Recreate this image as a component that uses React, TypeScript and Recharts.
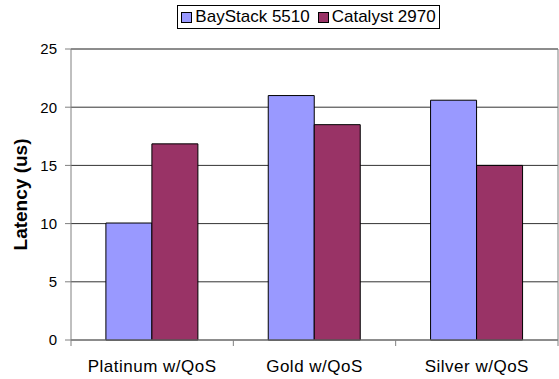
import { BarChart, Bar, XAxis, YAxis, CartesianGrid, ReferenceLine, Label } from "recharts";

const categories = ["Platinum w/QoS", "Gold w/QoS", "Silver w/QoS"];
const baystack = [10.05, 21.0, 20.6];
const catalyst = [16.85, 18.5, 15.0];
const yTicks = [0, 5, 10, 15, 20, 25];

const SERIES = [
  { key: "BayStack 5510", color: "#9999FF" },
  { key: "Catalyst 2970", color: "#993366" },
];

const data = categories.map((name, i) => ({
  name,
  "BayStack 5510": baystack[i],
  "Catalyst 2970": catalyst[i],
}));

const WIDTH = 559;
const HEIGHT = 379;
const MARGIN = { top: 49, right: 1, bottom: 0, left: 0 };
const Y_AXIS_W = 71;
const X_AXIS_H = 39;
// width of one category band, used to put the x ticks on the band edges
const CAT_W = (WIDTH - MARGIN.left - MARGIN.right - Y_AXIS_W) / categories.length;

const XTick = (props: any) => {
  const { x, y, payload, index } = props;
  return (
    <g>
      <line x1={x - CAT_W / 2} x2={x - CAT_W / 2} y1={y} y2={y + 6} stroke="#808080" />
      {index === categories.length - 1 && (
        <line x1={x + CAT_W / 2} x2={x + CAT_W / 2} y1={y} y2={y + 6} stroke="#808080" />
      )}
      <text x={x} y={y + 32} textAnchor="middle" fontSize={17} letterSpacing={0.5} fill="#000">
        {payload.value}
      </text>
    </g>
  );
};

const LegendBox = () => (
  <div
    style={{
      position: "absolute",
      top: 5,
      left: 0,
      width: WIDTH + 58,
      display: "flex",
      justifyContent: "center",
    }}
  >
    <div
      style={{
        display: "flex",
        alignItems: "center",
        border: "1px solid #000",
        padding: "1px 3px",
        fontSize: 17,
        lineHeight: "20px",
        background: "#fff",
        whiteSpace: "nowrap",
      }}
    >
      {SERIES.map((s, i) => (
        <span key={s.key} style={{ display: "inline-flex", alignItems: "center", marginLeft: i ? 8 : 0 }}>
          <span
            style={{
              width: 9,
              height: 9,
              background: s.color,
              border: "1px solid #000",
              marginRight: 3,
              display: "inline-block",
            }}
          />
          {s.key}
        </span>
      ))}
    </div>
  </div>
);

export default function App() {
  return (
    <div
      style={{
        position: "absolute",
        left: 0,
        top: 0,
        width: WIDTH,
        height: HEIGHT,
        background: "#fff",
        fontFamily: "Arial, 'Liberation Sans', sans-serif",
      }}
    >
      <BarChart width={WIDTH} height={HEIGHT} data={data} margin={MARGIN} barCategoryGap="21.5%" barGap={0}>
        <CartesianGrid vertical={false} stroke="#333" />
        <XAxis
          dataKey="name"
          height={X_AXIS_H}
          tick={<XTick />}
          tickLine={false}
          tickSize={0}
          tickMargin={0}
          axisLine={{ stroke: "#808080" }}
          interval={0}
        />
        <YAxis
          width={Y_AXIS_W}
          domain={[0, 25]}
          ticks={yTicks}
          tickSize={6}
          tickMargin={8}
          axisLine={{ stroke: "#808080" }}
          tickLine={{ stroke: "#808080" }}
          tick={{ fill: "#000", fontSize: 15 }}
        >
          <Label
            value="Latency (us)"
            angle={-90}
            position="insideLeft"
            offset={20}
            style={{ textAnchor: "middle", fontWeight: "bold", fontSize: 19, fill: "#000" }}
          />
        </YAxis>
        <ReferenceLine x="Silver w/QoS" position="end" stroke="#808080" />
        <ReferenceLine y={25} stroke="#808080" />
        {SERIES.map((s) => (
          <Bar key={s.key} dataKey={s.key} fill={s.color} stroke="#000" strokeWidth={1} isAnimationActive={false} />
        ))}
      </BarChart>
      <LegendBox />
    </div>
  );
}
